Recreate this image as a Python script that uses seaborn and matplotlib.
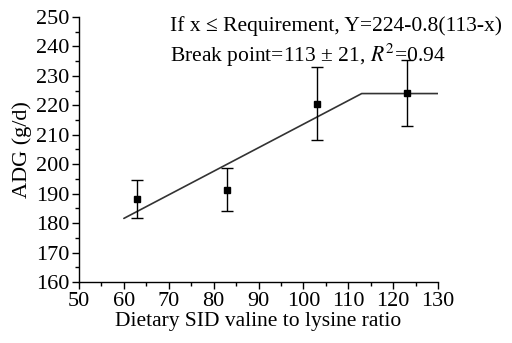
import matplotlib
matplotlib.use("Agg")
import matplotlib.pyplot as plt
import seaborn as sns
import pandas as pd
from matplotlib.ticker import MultipleLocator

ratio = [63, 83, 103, 123]
adg = [188.2, 191.4, 220.6, 224.3]
adg_err = [6.4, 7.2, 12.5, 11.2]
line_x = [60, 113, 130]
line_y = [181.6, 224.0, 224.0]

sns.set_theme(style="ticks")
plt.rcParams['font.family'] = ['Liberation Serif', 'DejaVu Serif']
plt.rcParams['mathtext.fontset'] = 'stix'

fig = plt.figure(figsize=(5.12, 3.43), dpi=100)
ax = fig.add_axes([79/512, 1-282/343, (438-79)/512, (282-17)/343])

df = pd.DataFrame({"x": line_x, "y": line_y})
sns.lineplot(data=df, x="x", y="y", ax=ax, color="#333333", lw=1.2)
ax.errorbar(ratio, adg, yerr=adg_err, fmt="s", color="black", ms=4,
            capsize=4.5, elinewidth=1, capthick=1)

ax.set_xlim(50, 130)
ax.set_ylim(160, 250)
ax.xaxis.set_major_locator(MultipleLocator(10))
ax.xaxis.set_minor_locator(MultipleLocator(5))
ax.yaxis.set_major_locator(MultipleLocator(10))
ax.yaxis.set_minor_locator(MultipleLocator(5))
ax.tick_params(which="major", length=5, width=1, direction="out", labelsize=16, pad=2, color="black", labelcolor="black")
ax.tick_params(which="minor", length=3, width=1, direction="out", color="black")
for s in ["top", "right"]:
    ax.spines[s].set_visible(False)
for s in ["left", "bottom"]:
    ax.spines[s].set_color("black")
    ax.spines[s].set_linewidth(1)

ax.set_xlabel("Dietary SID valine to lysine ratio", fontsize=15.5, color="black", labelpad=1)
ax.set_ylabel("ADG (g/d)", fontsize=16, color="black", labelpad=3)

ax.text(0.253, 1.005, "If x \u2264 Requirement, Y=224-0.8(113-x)", transform=ax.transAxes,
        fontsize=15.5, color="black", va="top", ha="left")
ax.text(0.253, 0.905, "Break point=113 \u00b1 21, $R^2$=0.94", transform=ax.transAxes,
        fontsize=15.5, color="black", va="top", ha="left")

fig.savefig("out.png", dpi=100)
